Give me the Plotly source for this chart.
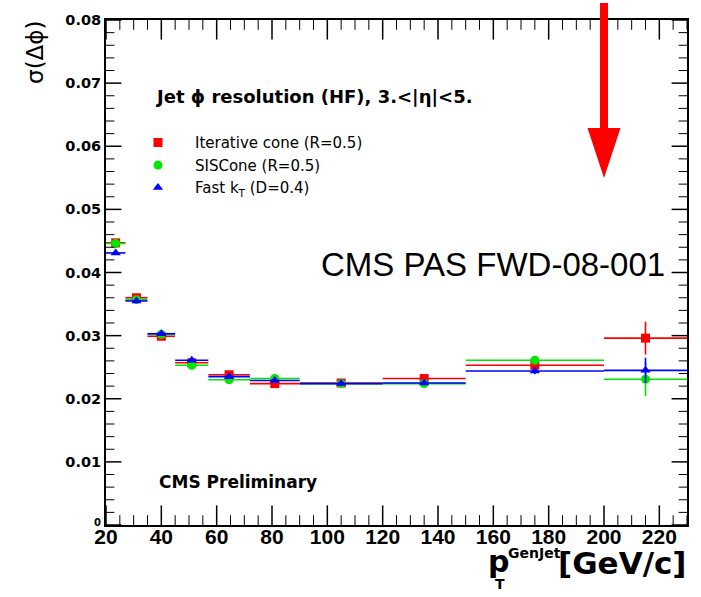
import plotly.graph_objects as go

# ---------------- data ----------------
bin_edges = [20, 27, 35, 45, 57, 72, 90, 120, 150, 200, 230]

icone = [0.0447, 0.0360, 0.0299, 0.0257, 0.0238, 0.0224, 0.0225, 0.0232, 0.0253, 0.0296]
icone_err = [0.0003, 0.0003, 0.0003, 0.0003, 0.0003, 0.0003, 0.0003, 0.0003, 0.0005, 0.0026]

siscone = [0.0446, 0.0357, 0.0302, 0.0253, 0.0230, 0.0232, 0.0224, 0.0224, 0.0261, 0.0231]
siscone_err = [0.0003, 0.0003, 0.0003, 0.0003, 0.0003, 0.0003, 0.0003, 0.0003, 0.0006, 0.0027]

fastkt = [0.0431, 0.0355, 0.0303, 0.0261, 0.0235, 0.0229, 0.0224, 0.0225, 0.0244, 0.0245]
fastkt_err = [0.0003, 0.0003, 0.0003, 0.0003, 0.0003, 0.0003, 0.0003, 0.0003, 0.0005, 0.0020]

series_names = ["Iterative cone (R=0.5)", "SISCone (R=0.5)", "Fast k<sub>T</sub> (D=0.4)"]
x_ticks = [20, 40, 60, 80, 100, 120, 140, 160, 180, 200, 220]
y_ticks = [0.01, 0.02, 0.03, 0.04, 0.05, 0.06, 0.07, 0.08]
x_range = [20, 230]
y_range = [0, 0.08]

x_center = [(a + b) / 2 for a, b in zip(bin_edges[:-1], bin_edges[1:])]
x_half = [(b - a) / 2 for a, b in zip(bin_edges[:-1], bin_edges[1:])]

# minor tick values (every 5 in x, every 0.002 in y)
x_minor = [20 + 5 * i for i in range(43) if i % 4 != 0]
y_minor = [round(0.002 * i, 4) for i in range(41) if i % 5 != 0]
y_major_all = [0.0] + y_ticks

# ---------------- layout geometry ----------------
W, H = 701, 597
L, R, T, B = 106, 13, 17, 72
PW, PH = W - L - R, H - T - B

def px(xp):
    return (xp - L) / PW

def py(yp):
    return (H - B - yp) / PH

FONT = "DejaVu Sans"

fig = go.Figure()

styles = [
    dict(color="#ff0000", symbol="square", size=9),
    dict(color="#00e600", symbol="circle", size=9),
    dict(color="#0000ff", symbol="triangle-up", size=9),
]
values = [(icone, icone_err), (siscone, siscone_err), (fastkt, fastkt_err)]

for name, (vals, errs), st in zip(series_names, values, styles):
    fig.add_trace(go.Scatter(
        x=x_center, y=vals, mode="markers", name=name,
        marker=dict(color=st["color"], symbol=st["symbol"], size=st["size"], line=dict(width=0)),
        error_x=dict(type="data", array=x_half, color=st["color"], thickness=1.6, width=0),
        error_y=dict(type="data", array=errs, color=st["color"], thickness=1.6, width=0),
    ))

# ---- inside tick marks on all four sides: line markers centred on the frame, clipped by the plot area ----
def tick_trace(xs, ys, symbol, size, width):
    return go.Scatter(
        x=xs, y=ys, mode="markers", showlegend=False, hoverinfo="skip", cliponaxis=True,
        marker=dict(symbol=symbol, size=size, color="black", line=dict(color="black", width=width)),
    )

for vals, ln, wd in [(x_ticks, 14, 1.5), (x_minor, 7, 1)]:
    fig.add_trace(tick_trace(vals + vals, [y_range[0]] * len(vals) + [y_range[1]] * len(vals),
                             "line-ns-open", 2 * ln, wd))
for vals, ln, wd in [(y_major_all, 11, 1.5), (y_minor, 6, 1)]:
    fig.add_trace(tick_trace([x_range[0]] * len(vals) + [x_range[1]] * len(vals), vals + vals,
                             "line-ew-open", 2 * ln, wd))

fig.update_xaxes(
    range=x_range, tickmode="array", tickvals=x_ticks, ticktext=[str(v) for v in x_ticks],
    showgrid=False, zeroline=False, showline=True, linecolor="black", linewidth=2,
    mirror=True, ticks="", ticklabelstandoff=-8,
    tickfont=dict(family="Liberation Sans", size=21, color="black", weight="bold"),
)
fig.update_yaxes(
    range=y_range, tickmode="array", tickvals=y_ticks, ticktext=["%.2f" % v for v in y_ticks],
    showgrid=False, zeroline=False, showline=True, linecolor="black", linewidth=2,
    mirror=True, ticks="",
    tickfont=dict(family=FONT, size=14.5, color="black", weight="bold"),
)

annotations = [
    dict(text="Jet \u03d5 resolution (HF), 3.<|\u03b7|<5.", x=px(153), y=py(94),
         xanchor="left", yanchor="middle", font=dict(family=FONT, size=18, color="black", weight="bold")),
    dict(text="CMS PAS FWD-08-001", x=px(668), y=py(263), xanchor="right", yanchor="middle",
         font=dict(family="Liberation Sans", size=33, color="black")),
    dict(text="CMS Preliminary", x=px(157), y=py(482), xanchor="left", yanchor="middle",
         font=dict(family=FONT, size=17, color="black", weight="bold")),
    dict(text="\u03c3(\u0394\u03d5)", x=px(35), y=py(50), xanchor="center", yanchor="middle", textangle=-90,
         font=dict(family=FONT, size=23, color="black")),
    dict(text="0", x=px(97), y=py(522), xanchor="center", yanchor="middle",
         font=dict(family=FONT, size=10, color="black", weight="bold")),
    # x title parts
    dict(text="[GeV/c]", x=px(690), y=py(563), xanchor="right", yanchor="middle",
         font=dict(family=FONT, size=31, color="black", weight="bold")),
    dict(text="GenJet", x=px(564), y=py(553), xanchor="right", yanchor="middle",
         font=dict(family=FONT, size=14, color="black", weight="bold")),
    dict(text="p", x=px(512), y=py(562), xanchor="right", yanchor="middle",
         font=dict(family=FONT, size=30, color="black", weight="bold")),
    dict(text="T", x=px(501), y=py(584), xanchor="center", yanchor="middle",
         font=dict(family=FONT, size=14, color="black", weight="bold")),
]
for a in annotations:
    a.update(xref="paper", yref="paper", showarrow=False)

arrow_x = (200 - x_range[0]) / (x_range[1] - x_range[0])
shapes = [dict(
    type="path", xref="paper", yref="paper", xsizemode="pixel", ysizemode="pixel",
    xanchor=arrow_x, yanchor=1,
    path="M -4,17 L 4,17 L 4,-108 L 16.5,-108 L 0,-158 L -16.5,-108 L -4,-108 Z",
    fillcolor="#ff0000", line=dict(width=0), layer="above",
)]

fig.update_layout(
    width=W, height=H, margin=dict(l=L, r=R, t=T, b=B),
    paper_bgcolor="white", plot_bgcolor="white",
    annotations=annotations, shapes=shapes,
    showlegend=True,
    legend=dict(x=px(121), y=py(124), xanchor="left", yanchor="top",
                bgcolor="rgba(0,0,0,0)", borderwidth=0, itemwidth=64,
                font=dict(family=FONT, size=15, color="black"), tracegroupgap=0),
)

fig.write_html("out.html")
